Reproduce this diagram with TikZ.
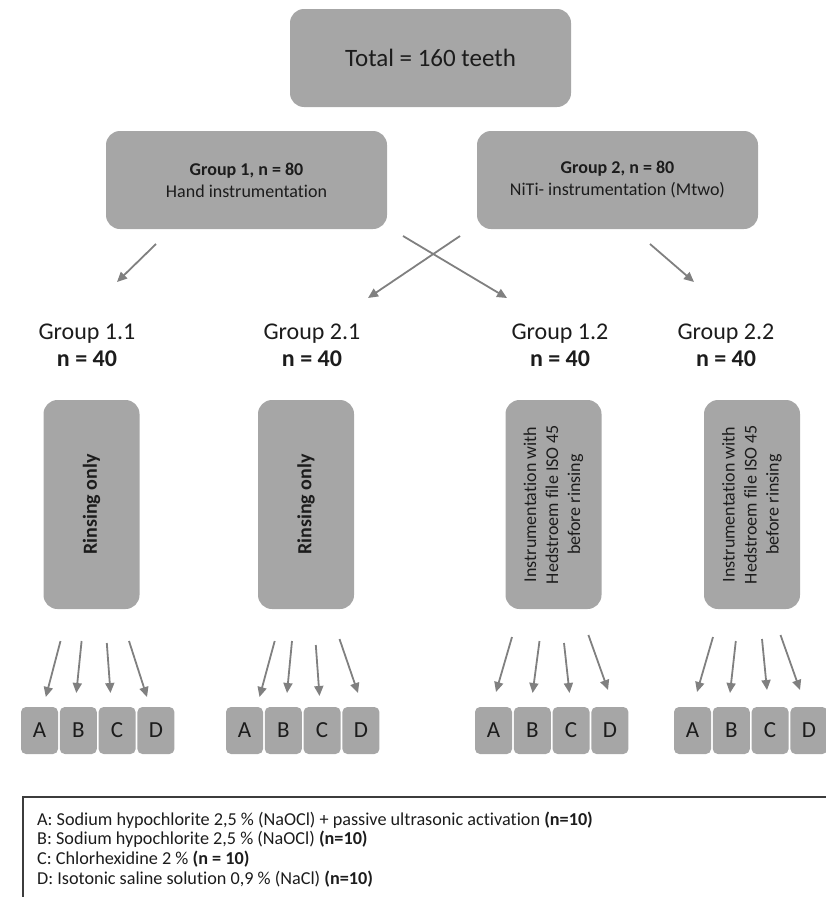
\documentclass[tikz,border=0pt]{standalone}
\usepackage{fontspec}
\setmainfont{Carlito}[Ligatures=NoCommon]
\usetikzlibrary{arrows.meta}
\definecolor{boxgray}{RGB}{166,166,166}
\definecolor{arrowgray}{RGB}{128,128,128}
\definecolor{txt}{RGB}{28,28,28}
\definecolor{frame}{RGB}{60,60,60}
\begin{document}
\begin{tikzpicture}[x=1pt,y=-1pt,
  box/.style={fill=boxgray, rounded corners=14pt, draw=none, inner sep=0pt, text=txt, align=center},
  tallbox/.style={box, rotate=90, minimum width=209pt, minimum height=96pt},
  letterbox/.style={fill=boxgray, rounded corners=5pt, minimum width=37pt, minimum height=47pt, inner sep=0pt, text=txt, font=\fontsize{23}{26}\selectfont},
  arr/.style={draw=arrowgray, line width=1.8pt, -{Triangle[length=10pt,width=9pt]}},
  lbl/.style={align=center, text=txt, inner sep=0pt, font=\fontsize{24}{27}\selectfont}]
\useasboundingbox (0,0) rectangle (825,897);

% top level
\node[box, minimum width=281pt, minimum height=98pt, font=\fontsize{25}{30}\selectfont] (total) at (430.5,58) {Total = 160 teeth};
\node[box, minimum width=281pt, minimum height=98pt, font=\fontsize{18}{22}\selectfont] (g1) at (246.5,180) {\textbf{Group 1, n = 80}\\Hand instrumentation};
\node[box, minimum width=281pt, minimum height=98pt, font=\fontsize{18}{22}\selectfont] (g2) at (617.5,180) {\textbf{Group 2, n = 80}\\NiTi- instrumentation (Mtwo)};

% arrow end points
\coordinate (a1s) at (156,244); \coordinate (a1e) at (117,282);
\coordinate (a2s) at (403,236); \coordinate (a2e) at (507,298);
\coordinate (a3s) at (460,236); \coordinate (a3e) at (368,298);
\coordinate (a4s) at (650,244); \coordinate (a4e) at (694,282);
\draw[arr] (a1s) -- (a1e);
\draw[arr] (a2s) -- (a2e);
\draw[arr] (a3s) -- (a3e);
\draw[arr] (a4s) -- (a4e);

% subgroup labels
\node[lbl] (l11) at (87,345) {Group 1.1\\\textbf{n = 40}};
\node[lbl] (l21) at (312,345) {Group 2.1\\\textbf{n = 40}};
\node[lbl] (l12) at (560,345) {Group 1.2\\\textbf{n = 40}};
\node[lbl] (l22) at (726,345) {Group 2.2\\\textbf{n = 40}};

% tall boxes
\node[tallbox, font=\fontsize{20}{24}\selectfont\bfseries] (t11) at (91.5,504.5) {Rinsing only};
\node[tallbox, font=\fontsize{20}{24}\selectfont\bfseries] (t21) at (306,504.5) {Rinsing only};
\node[tallbox, font=\fontsize{18}{22}\selectfont] (t12) at (553.5,504.5) {Instrumentation with\\Hedstroem file ISO 45\\before rinsing};
\node[tallbox, font=\fontsize{18}{22}\selectfont] (t22) at (752,504.5) {Instrumentation with\\Hedstroem file ISO 45\\before rinsing};

% letter boxes
\foreach \g/\x in {p/39.5, q/244.5, r/493.5, s/692.5}{
  \node[letterbox] (\g A) at (\x,730.5) {A};
  \node[letterbox] (\g B) at (\x+38.8,730.5) {B};
  \node[letterbox] (\g C) at (\x+77.6,730.5) {C};
  \node[letterbox] (\g D) at (\x+116.4,730.5) {D};
}

% small arrows
\foreach \n/\sx/\sy/\ex/\ey in {
  p1/60.5/641/45.8/697, p2/81.6/641/76.3/693, p3/106.8/643/110.5/693, p4/129/641/147/697,
  q1/274.7/641/259.5/697, q2/292/641/287/693, q3/315.8/645/319.5/696, q4/339.5/639/358/693,
  r1/512/637/496/692, r2/539.5/641/532.6/693, r3/564/643/569.5/693, r4/588.4/635/608/690,
  s1/713/637/697/692, s2/735.8/641/730/693, s3/762/639/767/690, s4/780.5/635/800/690}{
  \coordinate (\n s) at (\sx,\sy);
  \coordinate (\n e) at (\ex,\ey);
  \draw[arr] (\n s) -- (\n e);
}

% legend
\node[draw=frame, line width=1.5pt, anchor=north west, minimum width=820pt, minimum height=130pt, inner sep=0pt] (legend) at (22,796) {};
\node[anchor=north west, align=left, inner sep=0pt, text=txt, font=\fontsize{18.2}{19.6}\selectfont] (legtext) at (37,811.5)
 {A: Sodium hypochlorite 2,5 \% (NaOCl) + passive ultrasonic activation \textbf{(n=10)}\\
  B: Sodium hypochlorite 2,5 \% (NaOCl) \textbf{(n=10)}\\
  C: Chlorhexidine 2 \% \textbf{(n = 10)}\\
  D: Isotonic saline solution 0,9 \% (NaCl) \textbf{(n=10)}};
\end{tikzpicture}
\end{document}
